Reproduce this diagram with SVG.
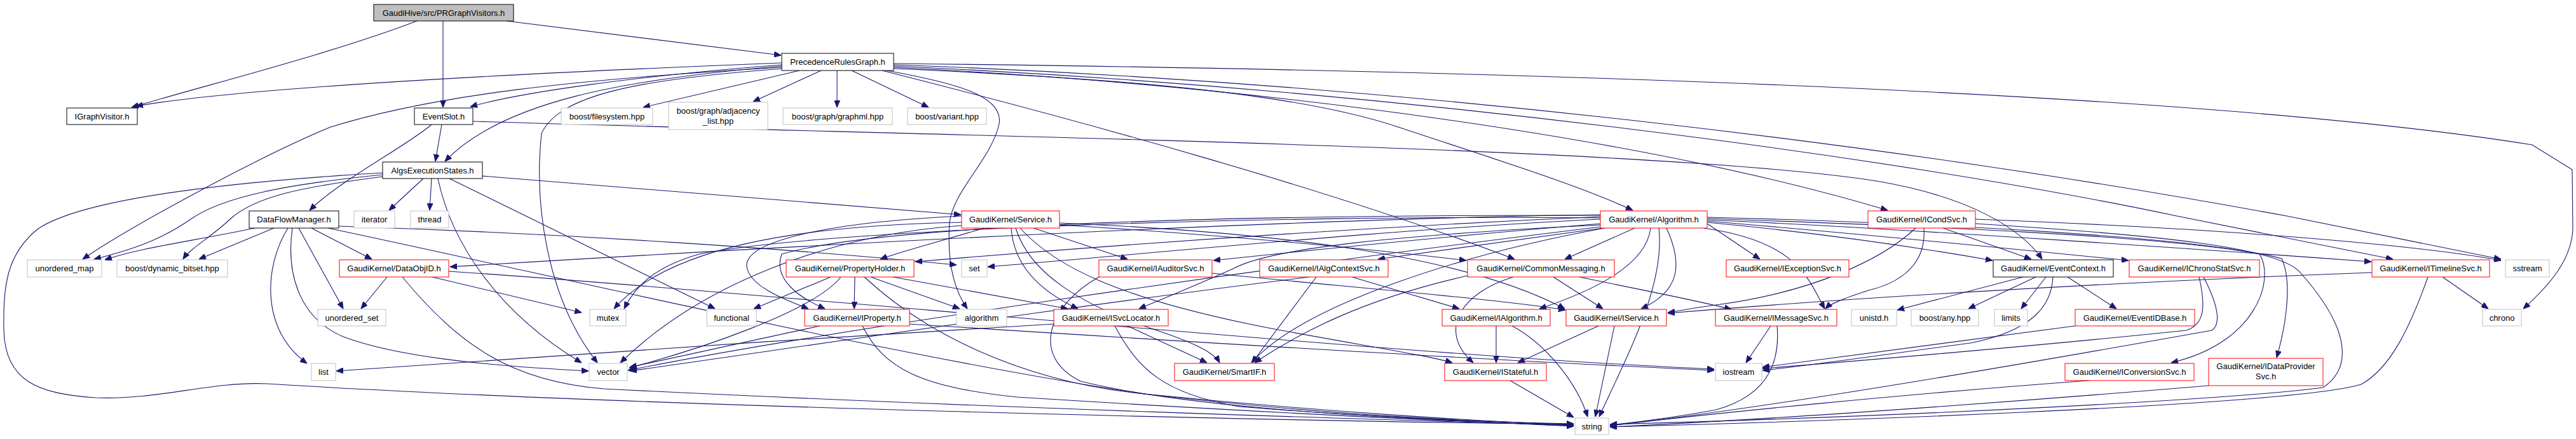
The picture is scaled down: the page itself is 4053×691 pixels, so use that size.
<svg xmlns="http://www.w3.org/2000/svg" width="4053" height="691" viewBox="0 0 4053 691">
<style>
.n rect{fill:#ffffff;stroke-width:1}
.n text{font-family:"Liberation Sans",Arial,Helvetica,sans-serif;font-size:13px;fill:#000000;text-anchor:middle}
.blk rect{stroke:#000000}
.red rect{stroke:#ff0000}
.gry rect{stroke:#bfbfbf}
.top rect{fill:#bfbfbf;stroke:#000000}
#edges path{fill:none;stroke:#191970;stroke-width:1.1;marker-end:url(#arr)}
</style>
<defs>
<marker id="arr" markerWidth="11" markerHeight="9" refX="11" refY="4.5" orient="auto" markerUnits="userSpaceOnUse">
<path d="M0,0 L11,4.5 L0,9 z" fill="#191970" stroke="#191970" stroke-width="1"/>
</marker>
</defs>
<rect x="0" y="0" width="4053" height="691" fill="#ffffff"/>
<g id="edges">
<path d="M656,33 C520,85 320,135 207,169"/>
<path d="M697,33 L697,169"/>
<path d="M797,33 L1229,87"/>
<path d="M1230,99 C900,112 400,135 214,167"/>
<path d="M1230,102 C1000,120 820,145 740,168"/>
<path d="M1230,104 C980,125 790,160 700,254"/>
<path d="M1230,106 C900,125 680,150 520,200 C400,250 200,360 130,408"/>
<path d="M1232,108 C1000,125 880,150 852,210 C840,320 860,470 940,571"/>
<path d="M1258,111 L1012,169"/>
<path d="M1292,111 L1185,160"/>
<path d="M1317,111 L1317,169"/>
<path d="M1340,111 L1461,169"/>
<path d="M1395,111 C1500,130 1580,150 1572,195 C1560,250 1500,300 1494,350 C1490,410 1500,455 1522,486"/>
<path d="M1388,111 C1700,190 2100,300 2383,408"/>
<path d="M1406,108 C1800,125 2050,150 2200,200 C2350,250 2480,290 2569,331"/>
<path d="M1406,106 C2000,135 2600,220 2970,331"/>
<path d="M1406,104 C2200,140 3000,250 3425,340 L3765,408"/>
<path d="M1406,102 C2200,130 3000,230 3598,340 L3935,408"/>
<path d="M1406,100 C2500,112 3500,150 3984,228 L4047,267 L4048,360 C4046,410 4010,450 3970,486"/>
<path d="M695,196 L685,254"/>
<path d="M679,196 C640,230 540,280 487,331"/>
<path d="M744,191 C1500,215 2600,230 2953,285 C3100,310 3180,360 3213,408"/>
<path d="M666,281 L612,331"/>
<path d="M679,281 L676,331"/>
<path d="M689,281 C710,380 780,490 915,571"/>
<path d="M707,281 L1125,486"/>
<path d="M759,277 L1512,338"/>
<path d="M602,272 C300,290 120,320 60,360 C10,400 5,450 6,520 C8,600 60,620 150,626 C250,630 330,600 420,604 C1000,640 2000,662 2476,668"/>
<path d="M602,275 C450,290 350,310 300,345 C250,380 200,395 148,408"/>
<path d="M602,278 C470,295 400,310 362,345 C330,375 300,390 288,408"/>
<path d="M401,359 C300,380 220,390 165,409"/>
<path d="M431,359 L313,408"/>
<path d="M453,359 C415,420 410,520 483,572"/>
<path d="M460,359 C450,430 470,500 540,530 C620,560 750,575 926,584"/>
<path d="M470,359 L540,486"/>
<path d="M490,359 L585,408"/>
<path d="M516,359 C900,440 1400,560 1800,620 C2100,655 2350,665 2476,667"/>
<path d="M533,356 C900,368 1250,392 1505,417"/>
<path d="M609,436 L568,486"/>
<path d="M680,436 L915,492"/>
<path d="M633,436 C720,540 800,600 950,612 C1500,640 2200,662 2476,669"/>
<path d="M706,427 C1200,460 2200,560 2697,581"/>
<path d="M1548,359 C1480,380 1420,395 1385,408"/>
<path d="M1591,359 C1595,420 1640,460 1696,486"/>
<path d="M1598,359 C1620,430 1700,480 1820,520 C1880,540 1910,555 1919,571"/>
<path d="M1626,359 L1774,408"/>
<path d="M1605,359 C1660,420 1760,470 2000,517 C2150,545 2250,560 2285,571"/>
<path d="M1667,351 C2000,365 2300,400 2462,486"/>
<path d="M1667,354 C1850,365 2100,385 2307,410"/>
<path d="M1513,350 C1250,355 1050,390 966,486"/>
<path d="M1513,355 C1300,370 1100,450 976,571"/>
<path d="M1513,340 C1300,350 1170,380 1175,420 C1180,450 1230,470 1272,486"/>
<path d="M2572,359 L2462,408"/>
<path d="M2597,359 C2590,420 2500,460 2422,486"/>
<path d="M2622,359 C2650,420 2640,460 2582,486"/>
<path d="M2518,341 C2100,360 1700,390 1440,412"/>
<path d="M2522,359 L2168,408"/>
<path d="M2518,352 C2300,370 2050,395 1909,410"/>
<path d="M2518,354 C2200,370 2000,390 1940,423 C1880,450 1830,470 1792,486"/>
<path d="M2525,359 C2300,400 2050,480 1969,571"/>
<path d="M2518,338 C2000,345 1200,390 708,420"/>
<path d="M2518,345 C2200,360 1800,400 1554,420"/>
<path d="M2518,343 C2000,338 1300,360 1100,400 C1030,420 1000,450 982,486"/>
<path d="M2518,357 C2000,420 1300,520 988,583"/>
<path d="M2680,359 C2830,380 2845,440 2871,486"/>
<path d="M2686,352 L2769,408"/>
<path d="M2686,350 C2900,370 3050,395 3135,410"/>
<path d="M2686,348 C2950,370 3200,395 3349,410"/>
<path d="M2686,346 C3000,360 3500,395 3731,412"/>
<path d="M2686,344 C3000,355 3400,370 3555,400 C3580,440 3550,540 3416,571"/>
<path d="M2686,342 C3000,350 3450,370 3590,407 C3605,440 3600,500 3582,563"/>
<path d="M2610,359 C2620,450 2560,560 2516,656"/>
<path d="M2518,339 C2000,338 1400,350 1230,400 C1215,440 1260,470 1298,486"/>
<path d="M1345,436 L1344,486"/>
<path d="M1307,436 L1186,486"/>
<path d="M1323,436 C1280,490 1100,550 990,579"/>
<path d="M1370,436 L1510,486"/>
<path d="M1405,436 L1680,486"/>
<path d="M1360,436 C1450,520 1600,600 1800,620 C2100,650 2350,664 2476,669"/>
<path d="M1290,513 L991,578"/>
<path d="M1357,513 C1390,580 1450,610 1600,625 C2000,650 2300,664 2476,670"/>
<path d="M1431,510 C1900,540 2400,570 2697,583"/>
<path d="M1658,510 C1300,530 800,565 529,584"/>
<path d="M1774,513 L1899,571"/>
<path d="M1754,513 C1790,580 1830,620 1950,640 C2200,660 2400,667 2476,671"/>
<path d="M1729,436 C1650,480 1620,560 1700,600 C1900,650 2300,663 2476,668"/>
<path d="M1907,430 C2100,450 2350,470 2463,488"/>
<path d="M2127,436 L2296,486"/>
<path d="M2071,436 L1970,571"/>
<path d="M2060,436 C1700,480 1300,540 991,584"/>
<path d="M2381,436 C2300,460 2260,520 2318,571"/>
<path d="M2444,436 L2522,486"/>
<path d="M2485,436 C2600,460 2680,475 2724,487"/>
<path d="M2309,434 C2150,470 2050,520 1974,571"/>
<path d="M2354,513 L2354,571"/>
<path d="M2379,513 C2430,540 2480,600 2498,656"/>
<path d="M2515,513 L2388,571"/>
<path d="M2540,513 L2510,656"/>
<path d="M2376,599 L2476,657"/>
<path d="M2786,513 L2747,571"/>
<path d="M2796,513 C2800,560 2790,620 2700,645 C2620,660 2560,666 2533,669"/>
<path d="M3183,436 L2985,488"/>
<path d="M3203,436 L3097,486"/>
<path d="M3219,436 L3180,486"/>
<path d="M3253,436 L3330,486"/>
<path d="M3230,436 C3228,480 3200,520 3100,540 C2950,560 2850,575 2773,583"/>
<path d="M3265,513 L2773,578"/>
<path d="M3057,359 L3196,408"/>
<path d="M3027,359 C3030,400 3010,440 2940,457 C2900,470 2880,478 2872,486"/>
<path d="M3014,359 C2960,410 2850,460 2700,480 C2660,485 2640,490 2624,492"/>
<path d="M3108,345 C3500,360 3800,385 3935,410"/>
<path d="M3108,352 C3400,370 3590,390 3620,430 C3700,520 3700,580 3655,610 C3500,630 3000,655 2533,668"/>
<path d="M3460,436 C3470,480 3470,510 3440,520 C3200,545 2900,570 2773,580"/>
<path d="M3467,436 C3490,480 3495,510 3480,520 C3200,570 2800,640 2533,670"/>
<path d="M3843,436 L3915,486"/>
<path d="M3820,436 C3790,520 3760,580 3715,605 C3600,640 2800,665 2533,672"/>
<path d="M3732,429 C3300,445 2900,470 2624,493"/>
<path d="M3287,599 C3000,620 2700,650 2533,670"/>
<path d="M3475,607 C3200,630 2800,660 2533,672"/>
</g>
<g id="node0" class="n top"><rect x="588" y="7" width="220" height="26"/><text x="698" y="24.5">GaudiHive/src/PRGraphVisitors.h</text></g>
<g id="node1" class="n blk"><rect x="105" y="170" width="111" height="26"/><text x="160.5" y="187.5">IGraphVisitor.h</text></g>
<g id="node2" class="n blk"><rect x="1230" y="84" width="176" height="27"/><text x="1318" y="102">PrecedenceRulesGraph.h</text></g>
<g id="node3" class="n blk"><rect x="652" y="170" width="92" height="26"/><text x="698" y="187.5">EventSlot.h</text></g>
<g id="node4" class="n blk"><rect x="602" y="255" width="157" height="26"/><text x="680.5" y="272.5">AlgsExecutionStates.h</text></g>
<g id="node5" class="n blk"><rect x="392" y="332" width="141" height="27"/><text x="462.5" y="350">DataFlowManager.h</text></g>
<g id="node6" class="n gry"><rect x="883" y="170" width="144" height="26"/><text x="955" y="187.5">boost/filesystem.hpp</text></g>
<g id="node7" class="n gry"><rect x="1052" y="161" width="156" height="43"/><text x="1130" y="178.5">boost/graph/adjacency</text><text x="1130" y="195">_list.hpp</text></g>
<g id="node8" class="n gry"><rect x="1232" y="170" width="172" height="26"/><text x="1318" y="187.5">boost/graph/graphml.hpp</text></g>
<g id="node9" class="n gry"><rect x="1428" y="170" width="124" height="26"/><text x="1490" y="187.5">boost/variant.hpp</text></g>
<g id="node10" class="n gry"><rect x="557" y="332" width="64" height="27"/><text x="589" y="350">iterator</text></g>
<g id="node11" class="n gry"><rect x="646" y="332" width="60" height="27"/><text x="676" y="350">thread</text></g>
<g id="node12" class="n red"><rect x="1513" y="332" width="154" height="27"/><text x="1590" y="350">GaudiKernel/Service.h</text></g>
<g id="node13" class="n red"><rect x="2518" y="332" width="168" height="27"/><text x="2602" y="350">GaudiKernel/Algorithm.h</text></g>
<g id="node14" class="n red"><rect x="2939" y="332" width="169" height="27"/><text x="3023.5" y="350">GaudiKernel/ICondSvc.h</text></g>
<g id="node15" class="n gry"><rect x="43" y="409" width="117" height="27"/><text x="101.5" y="427">unordered_map</text></g>
<g id="node16" class="n gry"><rect x="184" y="409" width="174" height="27"/><text x="271" y="427">boost/dynamic_bitset.hpp</text></g>
<g id="node17" class="n red"><rect x="534" y="409" width="172" height="27"/><text x="620" y="427">GaudiKernel/DataObjID.h</text></g>
<g id="node18" class="n gry"><rect x="1513" y="409" width="40" height="27"/><text x="1533" y="427">set</text></g>
<g id="node19" class="n red"><rect x="1237" y="409" width="201" height="27"/><text x="1337.5" y="427">GaudiKernel/PropertyHolder.h</text></g>
<g id="node20" class="n red"><rect x="1729" y="409" width="178" height="27"/><text x="1818" y="427">GaudiKernel/IAuditorSvc.h</text></g>
<g id="node21" class="n red"><rect x="1982" y="409" width="202" height="27"/><text x="2083" y="427">GaudiKernel/IAlgContextSvc.h</text></g>
<g id="node22" class="n red"><rect x="2309" y="409" width="231" height="27"/><text x="2424.5" y="427">GaudiKernel/CommonMessaging.h</text></g>
<g id="node23" class="n red"><rect x="2716" y="409" width="193" height="27"/><text x="2812.5" y="427">GaudiKernel/IExceptionSvc.h</text></g>
<g id="node24" class="n blk"><rect x="3136" y="409" width="189" height="27"/><text x="3230.5" y="427">GaudiKernel/EventContext.h</text></g>
<g id="node25" class="n red"><rect x="3350" y="409" width="205" height="27"/><text x="3452.5" y="427">GaudiKernel/IChronoStatSvc.h</text></g>
<g id="node26" class="n red"><rect x="3732" y="409" width="185" height="27"/><text x="3824.5" y="427">GaudiKernel/ITimelineSvc.h</text></g>
<g id="node27" class="n gry"><rect x="3942" y="409" width="69" height="27"/><text x="3976.5" y="427">sstream</text></g>
<g id="node28" class="n gry"><rect x="500" y="487" width="107" height="26"/><text x="553.5" y="504.5">unordered_set</text></g>
<g id="node29" class="n gry"><rect x="928" y="487" width="57" height="26"/><text x="956.5" y="504.5">mutex</text></g>
<g id="node30" class="n gry"><rect x="1112" y="487" width="78" height="26"/><text x="1151" y="504.5">functional</text></g>
<g id="node31" class="n red"><rect x="1266" y="487" width="165" height="26"/><text x="1348.5" y="504.5">GaudiKernel/IProperty.h</text></g>
<g id="node32" class="n gry"><rect x="1505" y="487" width="79" height="26"/><text x="1544.5" y="504.5">algorithm</text></g>
<g id="node33" class="n red"><rect x="1658" y="487" width="180" height="26"/><text x="1748" y="504.5">GaudiKernel/ISvcLocator.h</text></g>
<g id="node34" class="n red"><rect x="2269" y="487" width="170" height="26"/><text x="2354" y="504.5">GaudiKernel/IAlgorithm.h</text></g>
<g id="node35" class="n red"><rect x="2464" y="487" width="158" height="26"/><text x="2543" y="504.5">GaudiKernel/IService.h</text></g>
<g id="node36" class="n red"><rect x="2699" y="487" width="191" height="26"/><text x="2794.5" y="504.5">GaudiKernel/IMessageSvc.h</text></g>
<g id="node37" class="n gry"><rect x="2913" y="487" width="71" height="26"/><text x="2948.5" y="504.5">unistd.h</text></g>
<g id="node38" class="n gry"><rect x="3007" y="487" width="106" height="26"/><text x="3060" y="504.5">boost/any.hpp</text></g>
<g id="node39" class="n gry"><rect x="3138" y="487" width="52" height="26"/><text x="3164" y="504.5">limits</text></g>
<g id="node40" class="n red"><rect x="3265" y="487" width="188" height="26"/><text x="3359" y="504.5">GaudiKernel/EventIDBase.h</text></g>
<g id="node41" class="n gry"><rect x="3906" y="487" width="61" height="26"/><text x="3936.5" y="504.5">chrono</text></g>
<g id="node42" class="n gry"><rect x="490" y="572" width="38" height="27"/><text x="509" y="590">list</text></g>
<g id="node43" class="n gry"><rect x="927" y="572" width="60" height="27"/><text x="957" y="590">vector</text></g>
<g id="node44" class="n red"><rect x="1848" y="572" width="157" height="27"/><text x="1926.5" y="590">GaudiKernel/SmartIF.h</text></g>
<g id="node45" class="n red"><rect x="2273" y="572" width="160" height="27"/><text x="2353" y="590">GaudiKernel/IStateful.h</text></g>
<g id="node46" class="n gry"><rect x="2699" y="572" width="73" height="27"/><text x="2735.5" y="590">iostream</text></g>
<g id="node47" class="n red"><rect x="3249" y="572" width="203" height="27"/><text x="3350.5" y="590">GaudiKernel/IConversionSvc.h</text></g>
<g id="node48" class="n red"><rect x="3475" y="564" width="180" height="43"/><text x="3565" y="581">GaudiKernel/IDataProvider</text><text x="3565" y="597">Svc.h</text></g>
<g id="node49" class="n gry"><rect x="2478" y="658" width="53" height="26"/><text x="2504.5" y="675.5">string</text></g>
</svg>
